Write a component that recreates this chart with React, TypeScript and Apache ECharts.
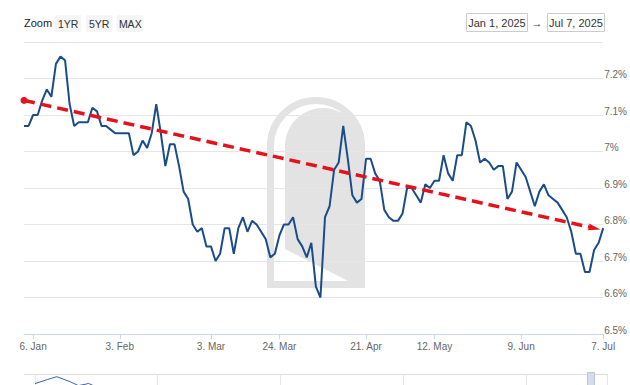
import React, { useEffect, useRef } from "react";
import * as echarts from "echarts";

const FONT = "'Liberation Sans', Arial, sans-serif";

// business days shown on the category axis
const startDate = "2025-01-02";
const endDate = "2025-07-07";
const closedDays = ["2025-01-20", "2025-04-18", "2025-05-26", "2025-06-19", "2025-07-04"];

// 30-yr fixed rate (%), one value per business day
const rateValues = [
  7.07, 7.07, 7.1, 7.1, 7.14, 7.17, 7.15, 7.24, 7.26, 7.25,
  7.13, 7.07, 7.08, 7.08, 7.08, 7.12, 7.11, 7.07, 7.07, 7.06,
  7.05, 7.05, 7.05, 7.05, 6.99, 7.0, 7.03, 7.01, 7.05, 7.13,
  7.05, 6.96, 7.02, 7.02, 6.96, 6.89, 6.87, 6.8, 6.78, 6.79,
  6.74, 6.74, 6.7, 6.72, 6.79, 6.79, 6.72, 6.79, 6.82, 6.78,
  6.81, 6.8, 6.78, 6.76, 6.71, 6.72, 6.77, 6.8, 6.8, 6.82,
  6.76, 6.74, 6.71, 6.75, 6.63, 6.6, 6.82, 6.85, 6.95, 6.97,
  7.07, 6.98, 6.88, 6.86, 6.87, 6.98, 6.98, 6.94, 6.92, 6.84,
  6.82, 6.81, 6.81, 6.83, 6.9, 6.9, 6.88, 6.86, 6.91, 6.9,
  6.92, 6.92, 6.99, 6.94, 6.92, 6.99, 6.99, 7.08, 7.07, 7.03,
  6.97, 6.98, 6.97, 6.95, 6.96, 6.96, 6.87, 6.89, 6.97, 6.95,
  6.93, 6.89, 6.85, 6.89, 6.91, 6.88, 6.87, 6.86, 6.84, 6.82,
  6.78, 6.72, 6.72, 6.67, 6.67, 6.73, 6.75, 6.79,
];

const xTickDates = ["2025-01-06", "2025-02-03", "2025-03-03", "2025-03-24", "2025-04-21", "2025-05-12", "2025-06-09", "2025-07-07"];
const xTickLabels = ["6. Jan", "3. Feb", "3. Mar", "24. Mar", "21. Apr", "12. May", "9. Jun", "7. Jul"];

// dashed trend arrow: start / end (category index, value)
const trendStart = [0, 7.14];
const trendEnd = [125, 6.79];

// navigator mini-series (navigator units, value)
const navX = [0, 0.1, 0.177, 0.286, 0.354, 0.42, 0.435, 0.475, 0.55];
const navY = [7.6, 8.6, 9.33, 8.08, 7.1, 7.5, 7.67, 7.1, 6.3];

const rangeButtons = ["1YR", "5YR", "MAX"];
const dateRange = ["Jan 1, 2025", "Jul 7, 2025"];

function buildDays(): string[] {
  const out: string[] = [];
  const d = new Date(startDate + "T00:00:00Z");
  const end = new Date(endDate + "T00:00:00Z");
  while (d.getTime() <= end.getTime()) {
    const wd = d.getUTCDay();
    const iso = d.toISOString().slice(0, 10);
    if (wd !== 0 && wd !== 6 && !closedDays.includes(iso)) out.push(iso);
    d.setUTCDate(d.getUTCDate() + 1);
  }
  return out;
}

function archPoints(): number[][] {
  const pts: number[][] = [[285, 249], [285, 146]];
  const cx = 323, cy = 146, r = 38;
  for (let i = 0; i <= 24; i++) {
    const t = Math.PI + (Math.PI * i) / 24;
    pts.push([cx + r * Math.cos(t), cy + r * Math.sin(t)]);
  }
  pts.push([361, 283], [352, 283]);
  return pts;
}

function txt(x: number, y: number, text: string, size: number, align: string, fill = "#333") {
  return {
    type: "text",
    x,
    y,
    silent: true,
    style: {
      text,
      fill,
      font: `${size}px ${FONT}`,
      align,
      verticalAlign: "middle",
      textAlign: align,
      textVerticalAlign: "middle",
    },
  };
}

export default function App() {
  const ref = useRef<HTMLDivElement>(null);
  useEffect(() => {
    if (!ref.current) return;
    const chart = echarts.init(ref.current, undefined, { renderer: "svg" });
    const days = buildDays();
    const isTick = (_i: number, v: string) => xTickDates.includes(v);
    const btnX = [55, 86, 117];

    const graphic: any[] = [
      {
        type: "rect",
        z: -1,
        silent: true,
        shape: { x: 270.5, y: 100.5, width: 91, height: 184, r: [45.5, 45.5, 0, 0] },
        style: { fill: "none", stroke: "#e3e3e3", lineWidth: 7 },
      },
      {
        type: "polygon",
        z: -1,
        silent: true,
        shape: { points: archPoints() },
        style: { fill: "#e3e3e3" },
      },
      txt(24, 23, "Zoom", 11, "left", "#222"),
      ...rangeButtons.flatMap((b, i) => [
        {
          type: "rect",
          silent: true,
          shape: { x: btnX[i], y: 15, width: 26.5, height: 17, r: 2 },
          style: { fill: "#f5f5f5" },
        },
        txt(btnX[i] + 13.25, 23.5, b, 10.5, "center"),
      ]),
      {
        type: "rect",
        silent: true,
        shape: { x: 466.5, y: 13.5, width: 61, height: 18 },
        style: { fill: "#fff", stroke: "#cccccc", lineWidth: 1 },
      },
      txt(497, 23, dateRange[0], 11, "center"),
      txt(537, 22.5, "\u2192", 11, "center"),
      {
        type: "rect",
        silent: true,
        shape: { x: 547.5, y: 13.5, width: 57, height: 18 },
        style: { fill: "#fff", stroke: "#cccccc", lineWidth: 1 },
      },
      txt(576, 23, dateRange[1], 11, "center"),
      {
        type: "line",
        silent: true,
        shape: { x1: 24, y1: 374.5, x2: 607, y2: 374.5 },
        style: { stroke: "#dddddd", lineWidth: 1 },
      },
      {
        type: "rect",
        silent: true,
        z: 10,
        shape: { x: 587.5, y: 372.5, width: 7, height: 16 },
        style: { fill: "#d5dcee", stroke: "#b9c4dd", lineWidth: 1 },
      },
    ];

    const option: any = {
      animation: false,
      textStyle: { fontFamily: FONT },
      grid: [
        { left: 24, right: 24, top: 42, height: 292 },
        { left: 35, right: 23, top: 374, height: 11 },
      ],
      xAxis: [
        {
          type: "category",
          gridIndex: 0,
          data: days,
          boundaryGap: false,
          axisLine: { show: true, lineStyle: { color: "#ccd6eb", width: 1 } },
          axisTick: { show: true, interval: isTick, length: 5, lineStyle: { color: "#ccd6eb" } },
          axisLabel: {
            interval: isTick,
            formatter: (v: string) => xTickLabels[xTickDates.indexOf(v)] ?? "",
            color: "#666",
            fontSize: 10,
            fontFamily: FONT,
            margin: 7,
          },
          splitLine: { show: false },
        },
        {
          type: "value",
          gridIndex: 1,
          min: 0,
          max: 4.662,
          interval: 1,
          axisLine: { show: false },
          axisTick: { show: false },
          axisLabel: { show: false },
          splitLine: { show: true, lineStyle: { color: "#e6e6e6" } },
        },
      ],
      yAxis: [
        {
          type: "value",
          gridIndex: 0,
          position: "right",
          min: 6.5,
          max: 7.3,
          interval: 0.1,
          axisLine: { show: false },
          axisTick: { show: false },
          axisLabel: {
            showMaxLabel: false,
            formatter: (v: number) => `${+v.toFixed(1)}%`,
            color: "#666",
            fontSize: 10,
            fontFamily: FONT,
            margin: 1,
            align: "left",
            verticalAlign: "bottom",
            lineHeight: 8,
          },
          splitLine: { show: true, lineStyle: { color: "#e6e6e6", width: 1 } },
        },
        {
          type: "value",
          gridIndex: 1,
          min: 7.25,
          max: 10,
          show: false,
          splitLine: { show: false },
        },
      ],
      series: [
        {
          type: "line",
          xAxisIndex: 0,
          yAxisIndex: 0,
          data: rateValues,
          showSymbol: false,
          symbol: "none",
          z: 3,
          lineStyle: { color: "#1b4c8a", width: 2 },
          itemStyle: { color: "#1b4c8a" },
          silent: true,
          markLine: {
            silent: true,
            animation: false,
            symbol: ["circle", "path://M5,0 L10,10 L5,7.5 L0,10 Z"],
            symbolSize: [7, 13],
            label: { show: false },
            emphasis: { disabled: true },
            itemStyle: { color: "#e5121b" },
            lineStyle: { color: "#e5121b", width: 3.5, type: [11, 6], opacity: 1 },
            data: [
              [
                { coord: [days[trendStart[0]], trendStart[1]] },
                { coord: [days[trendEnd[0]], trendEnd[1]] },
              ],
            ],
          },
        },
        {
          type: "line",
          xAxisIndex: 1,
          yAxisIndex: 1,
          data: navX.map((x, i) => [x, navY[i]]),
          showSymbol: false,
          symbol: "none",
          silent: true,
          clip: true,
          lineStyle: { color: "#3a63a8", width: 1 },
        },
      ],
      graphic,
    };
    chart.setOption(option);
    return () => chart.dispose();
  }, []);
  return (
    <div
      ref={ref}
      style={{ position: "fixed", left: 0, top: 0, width: 630, height: 385, background: "#fff" }}
    />
  );
}
